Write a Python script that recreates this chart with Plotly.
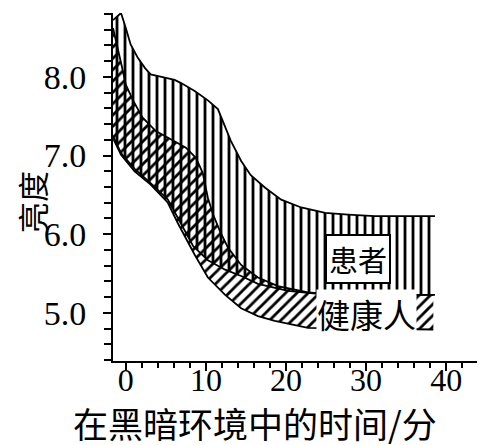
import plotly.graph_objects as go

# Patient (患者) band edges: time in minutes, brightness
patient_upper_x = [-1.6, -0.6, 0.0, 0.6, 1.5, 2.4, 3.1, 4.9, 6.1, 6.9, 8.6, 10.25, 11.5, 12.1, 13.1, 14.4, 15.6, 17.4, 19.4, 21.9, 24.9, 27.75, 31.1, 38.6]
patient_upper_y = [8.72, 8.81, 8.62, 8.41, 8.24, 8.11, 8.03, 7.99, 7.96, 7.92, 7.82, 7.70, 7.59, 7.44, 7.19, 6.93, 6.75, 6.59, 6.44, 6.34, 6.27, 6.25, 6.23, 6.23]
patient_lower_x = [-1.6, -0.6, 1.1, 3.1, 5.25, 6.5, 8.4, 10.25, 12.4, 14.4, 16.5, 20.25, 25.25, 38.6]
patient_lower_y = [7.25, 7.03, 6.83, 6.65, 6.44, 6.21, 5.85, 5.67, 5.55, 5.47, 5.37, 5.28, 5.23, 5.23]

# Healthy (健康人) band edges
healthy_upper_x = [-1.6, -1.0, -0.4, 0.0, 0.9, 2.1, 3.75, 5.9, 7.5, 8.75, 9.6, 10.25, 10.9, 11.75, 12.75, 14.4, 16.5, 19.0, 22.75, 26.5, 38.4]
healthy_upper_y = [8.62, 8.37, 8.09, 7.90, 7.70, 7.48, 7.31, 7.19, 7.10, 6.97, 6.78, 6.46, 6.25, 6.04, 5.83, 5.61, 5.45, 5.34, 5.26, 5.23, 5.23]
healthy_lower_x = [-1.6, -0.6, 1.1, 3.1, 5.25, 6.5, 8.6, 10.25, 12.4, 14.4, 16.5, 18.6, 22.75, 38.4]
healthy_lower_y = [7.22, 7.01, 6.80, 6.63, 6.40, 6.14, 5.74, 5.45, 5.23, 5.06, 4.96, 4.90, 4.81, 4.79]

x_ticks = [0, 10, 20, 30, 40]
y_ticks = [5.0, 6.0, 7.0, 8.0]
x_title = "在黑暗环境中的时间/分"
y_title = "亮度"
patient_label = "患者"
healthy_label = "健康人"

fig = go.Figure()

def band(ux, uy, lx, ly, shape):
    fig.add_trace(go.Scatter(
        x=ux + lx[::-1], y=uy + ly[::-1], mode="lines", fill="toself",
        line=dict(width=0, color="rgba(0,0,0,0)"),
        fillcolor="rgba(0,0,0,0)",
        fillpattern=dict(shape=shape, fgcolor="black", bgcolor="rgba(0,0,0,0)",
                         size=8, solidity=0.35, fillmode="replace"),
        hoverinfo="skip", showlegend=False))

band(patient_upper_x, patient_upper_y, patient_lower_x, patient_lower_y, "|")
band(healthy_upper_x, healthy_upper_y, healthy_lower_x, healthy_lower_y, "/")

for xs, ys in [(patient_upper_x, patient_upper_y), (patient_lower_x, patient_lower_y),
               (healthy_upper_x, healthy_upper_y), (healthy_lower_x, healthy_lower_y)]:
    fig.add_trace(go.Scatter(x=xs, y=ys, mode="lines", line=dict(color="black", width=1.8),
                             hoverinfo="skip", showlegend=False))

cjk = "Noto Sans CJK SC"
serif = "Liberation Serif"

fig.add_annotation(x=29.0, y=5.68, xref="x", yref="y", text=patient_label, showarrow=False,
                   font=dict(family=cjk, size=29, color="black"), bgcolor="white",
                   bordercolor="black", borderwidth=2, borderpad=2)
fig.add_annotation(x=30.0, y=4.99, xref="x", yref="y", text=healthy_label, showarrow=False,
                   font=dict(family=cjk, size=33, color="black"), bgcolor="white", borderpad=0)
fig.add_annotation(x=(247 - 105) / 370, y=-(414 - 353) / 348, xref="paper", yref="paper",
                   xanchor="center", yanchor="middle",
                   text=x_title, showarrow=False, font=dict(family=cjk, size=35, color="black"))
fig.add_annotation(x=-(105 - 23) / 370, y=(353 - 194) / 348, xref="paper", yref="paper",
                   xanchor="center", yanchor="middle",
                   text=y_title, textangle=-90, showarrow=False,
                   font=dict(family=cjk, size=31, color="black"))

fig.update_xaxes(range=[-1.6, 44.6], tickvals=x_ticks, ticks="outside", ticklen=8, tickwidth=1.5,
                 tickcolor="black", showline=True, linecolor="black", linewidth=2,
                 showgrid=False, zeroline=False, ticklabelstandoff=-18,
                 minor=dict(ticks="outside", dtick=2, tick0=0, ticklen=5, tickwidth=1.5, tickcolor="black"),
                 tickfont=dict(family=serif, size=32, color="black"))
fig.update_yaxes(range=[4.39, 8.81], tickvals=y_ticks, tickformat=".1f", ticks="outside", ticklen=8,
                 tickwidth=1.5, tickcolor="black", showline=True, linecolor="black", linewidth=2,
                 showgrid=False, zeroline=False, ticklabelstandoff=10,
                 minor=dict(ticks="outside", dtick=0.2, tick0=0, ticklen=7, tickwidth=1.5, tickcolor="black"),
                 tickfont=dict(family=serif, size=34, color="black"))

fig.update_layout(width=485, height=445, margin=dict(l=105, r=10, t=5, b=92),
                  paper_bgcolor="white", plot_bgcolor="white")

fig.write_html("out.html")
